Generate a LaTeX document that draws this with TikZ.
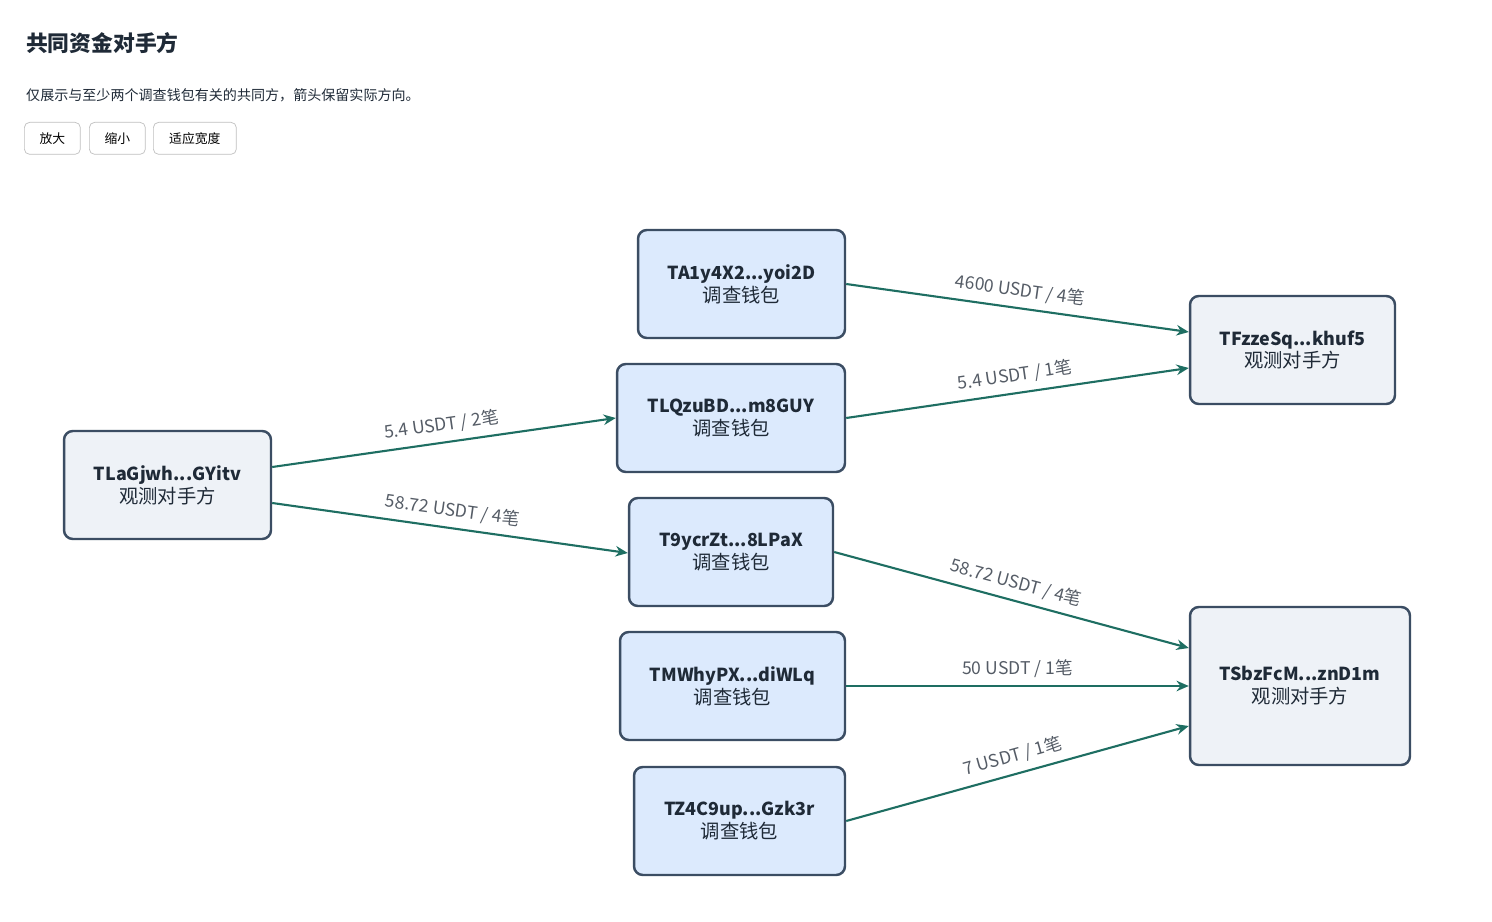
\documentclass[tikz,border=0pt]{standalone}
\usepackage{fontspec}
\setmainfont{Noto Sans CJK SC}
\usetikzlibrary{arrows.meta}
\definecolor{wallet}{HTML}{DCEAFD}
\definecolor{party}{HTML}{EEF2F7}
\definecolor{edge}{HTML}{3B4D63}
\definecolor{flow}{HTML}{1E6E62}
\definecolor{lbl}{HTML}{555C66}
\definecolor{ink}{HTML}{1F2A37}
\tikzset{
  box/.style={draw=edge, line width=1.4pt, rounded corners=5pt, align=center, font=\fontsize{10.2}{13}\selectfont, text=ink},
  wal/.style={box, fill=wallet},
  par/.style={box, fill=party},
  tx/.style={flow, line width=1.2pt, -{Stealth[length=7pt,width=6pt]}},
  amt/.style={sloped, above=1pt, font=\fontsize{10}{12}\selectfont, text=lbl},
  btn/.style={draw=black!25, rounded corners=3pt, font=\fontsize{7.3}{9}\selectfont, minimum height=0.64cm, inner xsep=7pt, anchor=north west}
}
\newcommand{\cn}[1]{{\fontsize{11}{13}\selectfont #1}}
\begin{document}
\begin{tikzpicture}[x=0.02cm,y=-0.02cm]
			\useasboundingbox (0,0) rectangle (1492,922);
			\node[anchor=west, font=\bfseries\fontsize{12.4}{14}\selectfont, text=ink] (title) at (20,43) {共同资金对手方};
			\node[anchor=west, font=\fontsize{8}{10}\selectfont, text=ink] (note) at (20,95) {仅展示与至少两个调查钱包有关的共同方，箭头保留实际方向。};
			\node[btn, minimum width=1.12cm] (bin) at (24,122) {放大};
			\node[btn, minimum width=1.12cm] (bout) at (89,122) {缩小};
			\node[btn, minimum width=1.66cm] (bfit) at (153,122) {适应宽度};
			%
			\node[wal, minimum width=4.14cm, minimum height=2.16cm] (a1) at (741.5,284) {\textbf{TA1y4X2...yoi2D}\\\cn{调查钱包}};
			\node[wal, minimum width=4.56cm, minimum height=2.16cm] (lq) at (731,418) {\textbf{TLQzuBD...m8GUY}\\\cn{调查钱包}};
			\node[wal, minimum width=4.08cm, minimum height=2.16cm] (t9) at (731,552) {\textbf{T9ycrZt...8LPaX}\\\cn{调查钱包}};
			\node[wal, minimum width=4.5cm, minimum height=2.16cm] (mw) at (732.5,686) {\textbf{TMWhyPX...diWLq}\\\cn{调查钱包}};
			\node[wal, minimum width=4.22cm, minimum height=2.16cm] (z4) at (739.5,821) {\textbf{TZ4C9up...Gzk3r}\\\cn{调查钱包}};
			\node[par, minimum width=4.14cm, minimum height=2.16cm] (lag) at (167.5,485) {\textbf{TLaGjwh...GYitv}\\\cn{观测对手方}};
			\node[par, minimum width=4.1cm, minimum height=2.16cm] (tfz) at (1292.5,350) {\textbf{TFzzeSq...khuf5}\\\cn{观测对手方}};
			\node[par, minimum width=4.4cm, minimum height=3.16cm] (tsb) at (1300,686) {\textbf{TSbzFcM...znD1m}\\\cn{观测对手方}};
			%
			\draw[tx] ([yshift=0.36cm]lag.east) -- (lq.west) node[amt, midway] {5.4 USDT / 2笔};
			\draw[tx] ([yshift=-0.36cm]lag.east) -- ([yshift=-0.02cm]t9.west) node[amt, midway] {58.72 USDT / 4笔};
			\draw[tx] (a1.east) -- ([yshift=0.36cm]tfz.west) node[amt, midway] {4600 USDT / 4笔};
			\draw[tx] (lq.east) -- ([yshift=-0.36cm]tfz.west) node[amt, midway] {5.4 USDT / 1笔};
			\draw[tx] (t9.east) -- ([yshift=0.76cm]tsb.west) node[amt, midway] {58.72 USDT / 4笔};
			\draw[tx] (mw.east) -- (tsb.west) node[amt, midway] {50 USDT / 1笔};
			\draw[tx] (z4.east) -- ([yshift=-0.8cm]tsb.west) node[amt, midway] {7 USDT / 1笔};
\end{tikzpicture}
\end{document}
